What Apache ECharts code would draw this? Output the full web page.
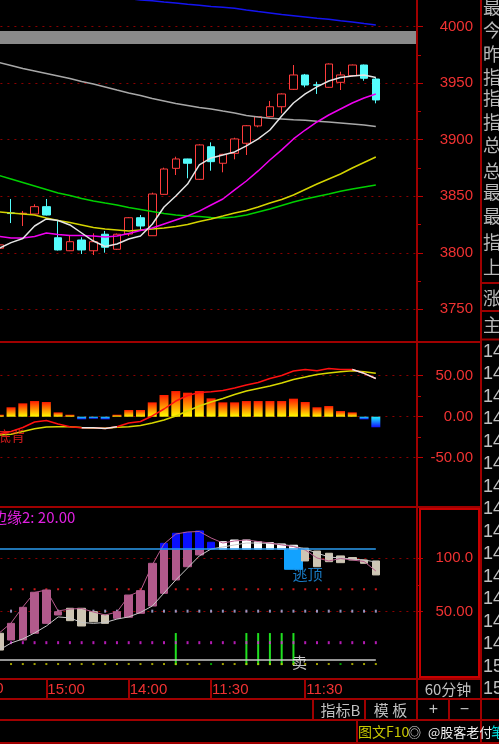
<!DOCTYPE html>
<html>
<head>
<meta charset="utf-8">
<title>60分钟</title>
<script src="https://cdn.jsdelivr.net/npm/echarts@6.0.0/dist/echarts.min.js"></script>
<style>
html,body{margin:0;padding:0;background:#000;overflow:hidden;}
#chart{width:499px;height:744px;}
</style>
</head>
<body>
<div id="chart"></div>
<script>
// ================= DATA =================
const categories = ['15:00','10:30','11:30','14:00','15:00','10:30','11:30','14:00','15:00','10:30','11:30','14:00','15:00','10:30','11:30','14:00','15:00','10:30','11:30','14:00','15:00','10:30','11:30','14:00','15:00','10:30','11:30','14:00','15:00','10:30','11:30','14:00','15:00',' ','  ','   '];
const timeLabelIdx = [4, 11, 18, 26];

// [open, close, low, high]
const candles = [
  [3804.0,3807.0,3803.0,3808.0],[3835.3,3834.7,3826.3,3847.6],[3834.5,3835.0,3823.7,3837.0],[3834.3,3840.8,3834.0,3842.9],
  [3840.8,3833.4,3833.0,3847.6],[3813.3,3802.5,3802.0,3829.0],[3801.8,3809.8,3801.5,3815.7],[3811.3,3802.5,3798.9,3813.7],
  [3801.8,3809.8,3798.0,3817.2],[3816.4,3804.9,3800.1,3819.3],[3803.1,3816.4,3802.5,3817.0],[3816.6,3831.0,3814.9,3831.5],
  [3831.0,3823.7,3820.2,3833.4],[3815.1,3852.0,3815.0,3853.2],[3851.7,3874.1,3851.5,3875.3],[3874.7,3883.0,3868.8,3885.0],
  [3883.0,3879.2,3865.9,3883.2],[3865.0,3895.4,3864.5,3896.0],[3893.8,3880.6,3872.6,3897.7],[3879.2,3887.1,3871.2,3887.5],
  [3888.0,3900.7,3882.7,3901.8],[3896.9,3912.4,3886.5,3913.0],[3912.2,3920.4,3911.0,3921.0],[3920.4,3929.2,3920.0,3934.3],
  [3929.2,3940.5,3923.4,3941.0],[3944.6,3957.3,3944.0,3966.1],[3957.3,3948.4,3946.4,3958.2],[3948.6,3948.2,3940.5,3951.3],
  [3946.4,3967.0,3946.0,3967.5],[3950.8,3957.3,3944.0,3960.2],[3956.7,3966.1,3956.0,3966.5],[3966.1,3954.4,3952.2,3966.5],
  [3953.7,3935.2,3932.2,3955.2]
];
const maWhite = [3804,3809,3812.6,3823.7,3829.9,3828.6,3824.6,3817.5,3810.4,3805.6,3807.8,3812.2,3814.9,3825.2,3840.5,3850.2,3860.8,3877.7,3883.9,3886.5,3889.2,3894.5,3900.7,3908.6,3921.0,3932.5,3940.5,3946.7,3952.0,3955.1,3956.4,3957.3,3955.1];
const maGray = [3968.3,3965.7,3963.0,3960.8,3958.6,3956.4,3954.2,3951.5,3949.3,3946.7,3944.0,3941.4,3939.1,3936.5,3934.3,3932.1,3930.3,3928.5,3927.2,3925.4,3923.7,3921.4,3920.1,3919.0,3918.4,3917.7,3917.2,3916.4,3915.7,3914.8,3913.9,3913.0,3911.7];
const maMagenta = [3814.4,3813.1,3813.1,3814.4,3817.5,3816.2,3815.3,3815.3,3814.9,3814.0,3814.9,3817.1,3819.7,3821.9,3825.5,3829.0,3832.5,3836.9,3842.3,3847.6,3855.6,3863.5,3872.4,3882.1,3891.0,3900.7,3908.6,3915.7,3921.9,3927.2,3932.5,3936.9,3940.5];
const maYellow = [3836.1,3835.2,3834.3,3833.4,3830.8,3828.6,3826.8,3824.6,3822.4,3821.1,3820.2,3819.3,3820.2,3821.1,3822.0,3823.3,3825.0,3827.7,3829.9,3832.5,3835.2,3837.4,3840.5,3844.0,3847.1,3851.1,3856.0,3860.8,3865.3,3869.7,3875.0,3879.9,3884.7];
const maGreen = [3868.4,3865.3,3862.2,3859.1,3856.0,3852.9,3850.7,3848.0,3845.8,3844.0,3842.3,3840.1,3838.3,3836.5,3834.8,3833.4,3832.5,3832.1,3831.2,3830.8,3831.7,3833.4,3836.1,3838.7,3841.8,3844.9,3847.6,3849.8,3852.0,3854.4,3856.4,3858.2,3860.0];
const maBlue = [4036.0,4035.1,4034.2,4033.3,4032.5,4031.6,4030.7,4029.8,4028.9,4027.6,4026.3,4024.9,4023.6,4022.9,4021.8,4021.0,4019.9,4018.9,4017.9,4017.2,4016.3,4014.8,4013.4,4012.1,4010.8,4009.7,4008.6,4007.4,4006.5,4005.3,4004.2,4002.8,4001.5];
const grayBand = [3984.7, 3996.2];
const priceLabels = [3750, 3800, 3850, 3900, 3950, 4000];
const priceMinor = [3775, 3825, 3875, 3925, 3975];

const macdHist = [0.9,11.5,16.3,19.1,17.9,5.3,0.9,-3.2,-2.5,-3.2,2.0,8.2,8.2,17.5,26.5,31.3,29.3,31.3,22.4,17.5,17.5,19.1,19.1,19.1,19.1,22.0,17.9,11.5,13.0,6.9,5.3,-3.2,-12.9];
const macdDif = [-20.5,-18.0,-13.2,-6.5,-4.6,-8.9,-12.3,-13.4,-13.4,-14.5,-12.2,-7.7,-5.9,0.9,9.4,19.1,25.9,29.5,30.5,32.0,35.0,38.7,41.7,46.6,50.2,55.7,57.6,56.0,58.8,57.6,57.6,52.9,46.6];
const macdDifWhite = [null,null,null,null,null,null,null,-13.4,-13.4,-14.5,-12.2,null,null,null,null,null,null,null,null,null,null,null,null,null,null,null,null,null,null,null,57.6,52.9,46.6];
const macdDea = [-22.3,-21.3,-18.0,-14.8,-12.6,-12.2,-12.2,-13.2,-13.8,-14.1,-12.9,-12.3,-10.7,-7.7,-4.0,0.9,7.0,13.0,17.9,22.2,27.1,31.3,34.4,37.4,41.1,45.4,48.4,51.5,53.3,54.8,56.1,54.8,52.9];
const macdLabels = [-50, 0, 50];
const macdMinor = [-25, 25];
const macdNote = {idx: 1, value: -23.5, text: '底背'};

const lineK = [30.1,39.4,54.4,68.0,70.3,50.7,52.5,53.0,49.7,46.9,49.7,64.7,69.4,93.7,113.4,122.7,124.6,125.1,119.0,114.3,116.2,117.1,115.7,114.3,112.5,111.0,107.8,100.3,97.5,99.8,98.4,97.0,88.1];
const lineD = [14.1,20.7,24.5,30.1,36.6,45.1,44.2,39.9,39.1,39.9,43.1,45.1,49.3,55.3,67.5,79.7,90.9,102.2,108.7,110.6,112.5,114.3,114.3,113.9,112.9,111.5,108.7,105.0,101.2,100.3,99.3,98.4,96.5];
const boxLow = [14.1,23.5,23.5,29.8,39.1,46.9,41.6,36.6,40.6,39.1,43.8,44.8,48.5,55.3,67.2,79.7,92.1,103.1,108.5,108.5,108.5,108.5,108.5,108.5,108.5,108.5,97.5,92.1,96.8,95.9,98.4,95.3,84.4];
const boxHigh = [29.8,39.1,54.1,68.2,70.3,50.0,53.2,53.2,50.0,46.9,50.0,65.6,69.7,95.3,114.0,123.4,124.3,125.6,115.0,115.5,117.1,117.1,115.5,114.6,113.4,112.2,109.4,106.8,104.7,102.2,100.7,98.4,97.5];
const boxUp = [0,1,1,1,1,1,0,0,0,0,1,1,1,1,1,1,1,1,1,0,0,0,0,0,0,0,0,0,0,0,0,0,0];
const edge1 = 108.5;
const edge2Label = '边缘2: 20.00';
const escapeBox = {idx: 25, low: 89.7, high: 108.5, labelValue: 84.6, text: '逃顶'};
const sellNote = {idx: 25, value: 3, text: '卖'};
const signalIdx = [15, 21, 22, 23, 24, 25];
const signalTop = 30;
const whiteLevel = 5.4;
const redDotLevel = 71;
const lavDotLevel = 50.5;
const magDotLevel = 21;
const baseDotLevel = 1;
const greenDotIdx = [18, 29];
const indLabels = [50, 100];
const indMinor = [75];

// ================= CHART =================
const chart = echarts.init(document.getElementById('chart'), null, {renderer: 'canvas'});
const GL = -6.6, GW = 423.6;
const FONT = '"Liberation Sans","Noto Sans CJK SC",sans-serif';
const CJK = '"Noto Sans CJK SC","Liberation Sans",sans-serif';
const RED_TXT = '#f03232';
const FRAME = '#a00000';
const barIdx = candles.map((_, i) => i);

function xAx(gi, show) {
  return {type: 'category', gridIndex: gi, data: categories, boundaryGap: true, show: show};
}
function majorY(gi, min, max, vals, fmt) {
  return {
    type: 'value', gridIndex: gi, position: 'right', min: min, max: max,
    axisLine: {show: false},
    axisTick: {show: true, customValues: vals, length: 6, lineStyle: {color: '#c00000', width: 1}},
    axisLabel: {show: true, customValues: vals, formatter: fmt, color: RED_TXT, fontSize: 15, fontFamily: FONT, align: 'right', margin: 56},
    splitLine: {show: true, lineStyle: {color: '#8b0000', type: [2, 5], width: 1}}
  };
}
function minorY(gi, min, max, vals) {
  return {
    type: 'value', gridIndex: gi, position: 'right', min: min, max: max,
    axisLine: {show: false},
    axisTick: {show: true, customValues: vals, length: 4, lineStyle: {color: '#c00000', width: 1}},
    axisLabel: {show: false}, splitLine: {show: false}
  };
}
function maLine(data, color, w) {
  return {type: 'line', xAxisIndex: 0, yAxisIndex: 0, data: data, showSymbol: false, symbol: 'none',
    lineStyle: {color: color, width: w || 1.5}, silent: true, clip: true};
}
function dotSeries(level, color, size) {
  return {type: 'scatter', xAxisIndex: 2, yAxisIndex: 4, symbol: 'rect', symbolSize: size,
    data: barIdx.slice(1).map(i => [i, level]), itemStyle: {color: color}, silent: true};
}
function boxItem(lo, hi, color) {
  return {value: [lo, hi, lo, hi], itemStyle: {color: color, color0: color, borderColor: color, borderColor0: color}};
}
const EMPTY = ['-', '-', '-', '-'];
const lowerBoxes = barIdx.map(i => {
  const lo = boxLow[i], hi = Math.min(boxHigh[i], edge1);
  if (lo >= edge1 - 0.05) return EMPTY.slice();
  return boxItem(lo, hi, boxUp[i] ? '#b15a8b' : '#cec6b4');
});
const upperBoxes = barIdx.map(i => {
  const hi = boxHigh[i], lo = Math.max(boxLow[i], edge1);
  if (hi <= edge1 + 0.05) return EMPTY.slice();
  return boxItem(lo, hi, boxUp[i] ? '#0a10ff' : '#ffffff');
});
const escapeData = barIdx.map(i => i === escapeBox.idx ? boxItem(escapeBox.low, escapeBox.high, '#12a2ff') : EMPTY.slice());
const signalData = barIdx.map(i => signalIdx.indexOf(i) >= 0 ? signalTop : '-');
const baseDots = barIdx.slice(1).map(i => ({value: [i, baseDotLevel], itemStyle: {color: greenDotIdx.indexOf(i) >= 0 ? '#00c800' : '#c8c800'}}));

function noteSeries(xi, yi, idx, value, text, color, size, offset) {
  return {type: 'scatter', xAxisIndex: xi, yAxisIndex: yi, symbol: 'circle', symbolSize: 1,
    itemStyle: {color: 'rgba(0,0,0,0)'}, silent: true, z: 10,
    data: [[idx, value]],
    label: {show: true, position: 'inside', offset: offset || [0, 0], formatter: text, color: color, fontSize: size, fontFamily: CJK}};
}

// frame graphics
function hl(y, x1, x2, c, w) { return {type: 'line', silent: true, z: 100, shape: {x1: x1, y1: y, x2: x2, y2: y}, style: {stroke: c || FRAME, lineWidth: w || 2}}; }
function vl(x, y1, y2, c, w) { return {type: 'line', silent: true, z: 100, shape: {x1: x, y1: y1, x2: x, y2: y2}, style: {stroke: c || FRAME, lineWidth: w || 2}}; }
function tx(x, y, text, fill, size, align, font) {
  return {type: 'text', silent: true, z: 101, x: x, y: y,
    style: {text: text, fill: fill, fontSize: size, fontFamily: font || CJK, align: align || 'left', verticalAlign: 'middle'}};
}
const graphics = [
  hl(342, 0, 481), hl(507, 0, 481), hl(679, 0, 481), hl(699, 0, 499), hl(720, 0, 499), hl(743, 0, 499),
  vl(417, 0, 720), vl(481, 0, 744),
  vl(313, 699, 720), vl(365, 699, 720), vl(449, 699, 720), vl(357, 720, 744),
  {type: 'rect', silent: true, z: 100, shape: {x: 420, y: 509, width: 59, height: 168}, style: {fill: null, stroke: '#c80000', lineWidth: 2}},
  hl(283, 481, 499), hl(311, 481, 499), hl(339.5, 481, 499),
  tx(-8, 517, edge2Label, '#e020e0', 15, 'left', CJK),
  tx(3.5, 689, '10:30', RED_TXT, 15, 'right', FONT),
  tx(448, 689, '60分钟', '#c0c0c0', 15, 'center'),
  tx(340.5, 710, '指标B', '#c0c0c0', 15, 'center'),
  tx(390.5, 710, '模 板', '#c0c0c0', 15, 'center'),
  tx(433.3, 710, '+', '#c0c0c0', 16, 'center', FONT),
  tx(464.3, 710, '−', '#c0c0c0', 16, 'center', FONT),
  tx(358, 732, '图文F10', '#c8c800', 14, 'left'),
  tx(408, 732, '◎', '#e0e0e0', 13, 'left'),
  tx(428, 732, '@股客老付', '#eeeeee', 13, 'left'),
  tx(491, 732, '笔', '#00d8d8', 14, 'left')
];
const rightChars = ['最','今','昨','指','指','指','总','总','最','最','指','上','涨','主'];
const rightCharY = [7, 30, 54, 76.7, 98.5, 122, 145, 171, 192.5, 216, 241.7, 267, 298.3, 325];
rightChars.forEach((c, i) => graphics.push(tx(483, rightCharY[i], c, '#b8b8b8', 18, 'left')));
for (let i = 0; i < 16; i++) graphics.push(tx(483, 351.7 + 22.5 * i, i < 14 ? '14' : '15', '#c0c0c0', 18, 'left', FONT));

function gridBox(top, height) {
  return {left: GL, width: GW, top: top, height: height, containLabel: false, outerBoundsMode: 'none'};
}

const option = {
  backgroundColor: '#000000',
  animation: false,
  tooltip: {show: false},
  axisPointer: {show: false},
  grid: [gridBox(0, 342), gridBox(342, 165), gridBox(507, 172), gridBox(679, 20)],
  xAxis: [
    xAx(0, false), xAx(1, false), xAx(2, false),
    {type: 'category', gridIndex: 3, data: categories, boundaryGap: true, position: 'bottom',
      axisLine: {show: false},
      axisTick: {show: true, alignWithLabel: true, inside: true, length: 20, interval: (i) => timeLabelIdx.indexOf(i) >= 0, lineStyle: {color: FRAME, width: 2}},
      axisLabel: {show: true, inside: true, interval: (i) => timeLabelIdx.indexOf(i) >= 0, align: 'left', margin: 2, padding: [0, 0, 0, 1],
        color: RED_TXT, fontSize: 15, fontFamily: FONT},
      splitLine: {show: false}}
  ],
  yAxis: [
    majorY(0, 3721.07, 4023.62, priceLabels, v => String(Math.round(v))),
    minorY(0, 3721.07, 4023.62, priceMinor),
    majorY(1, -110.1, 91.1, macdLabels, v => Number(v).toFixed(2)),
    minorY(1, -110.1, 91.1, macdMinor),
    majorY(2, -13.0, 148.0, indLabels, v => (v >= 100 ? Number(v).toFixed(1) : Number(v).toFixed(2))),
    minorY(2, -13.0, 148.0, indMinor),
    {type: 'value', gridIndex: 3, show: false}
  ],
  series: [
    // ---- price pane ----
    {type: 'candlestick', xAxisIndex: 0, yAxisIndex: 0, data: candles, barWidth: 8, silent: true,
      itemStyle: {color: '#000000', color0: '#54fcfc', borderColor: '#ff3c3c', borderColor0: '#54fcfc', borderWidth: 1},
      markArea: {silent: true, itemStyle: {color: '#8a8a8a'}, data: [[{yAxis: grayBand[0]}, {yAxis: grayBand[1]}]]}},
    maLine(maGray, '#a8a8a8'),
    maLine(maGreen, '#00d000'),
    maLine(maYellow, '#d4d400'),
    maLine(maMagenta, '#f000f0'),
    maLine(maWhite, '#e4e4e4'),
    maLine(maBlue, '#1414f0'),
    // ---- MACD pane ----
    {type: 'bar', xAxisIndex: 1, yAxisIndex: 2, data: macdHist, barWidth: 9, barMinHeight: 2, silent: true,
      itemStyle: {color: function (p) {
        return p.value >= 0
          ? new echarts.graphic.LinearGradient(0, 0, 0, 1, [{offset: 0, color: '#ff1a00'}, {offset: 1, color: '#ffff00'}])
          : new echarts.graphic.LinearGradient(0, 0, 0, 1, [{offset: 0, color: '#20f0ff'}, {offset: 1, color: '#1010ff'}]);
      }}},
    {type: 'line', xAxisIndex: 1, yAxisIndex: 2, data: macdDea, symbol: 'none', lineStyle: {color: '#d8d800', width: 1.5}, silent: true},
    {type: 'line', xAxisIndex: 1, yAxisIndex: 2, data: macdDif, symbol: 'none', lineStyle: {color: '#ff1010', width: 1.5}, silent: true},
    {type: 'line', xAxisIndex: 1, yAxisIndex: 2, data: macdDifWhite, symbol: 'none', connectNulls: false, lineStyle: {color: '#e8e8e8', width: 1.5}, silent: true},
    noteSeries(1, 2, macdNote.idx, macdNote.value, macdNote.text, '#ff2020', 14, [0, 0]),
    // ---- indicator pane ----
    dotSeries(redDotLevel, '#ff2020', [2, 2]),
    dotSeries(lavDotLevel, '#b8b8ec', [2, 3]),
    dotSeries(magDotLevel, '#e020e0', [2, 3]),
    {type: 'scatter', xAxisIndex: 2, yAxisIndex: 4, symbol: 'rect', symbolSize: [2, 2], data: baseDots, silent: true},
    {type: 'bar', xAxisIndex: 2, yAxisIndex: 4, data: signalData, barWidth: 2, itemStyle: {color: '#20e020'}, silent: true},
    {type: 'line', xAxisIndex: 2, yAxisIndex: 4, data: lineD, symbol: 'none', lineStyle: {color: '#c8c8c8', width: 1}, silent: true,
      markLine: {silent: true, symbol: ['none', 'none'], label: {show: false}, animation: false,
        data: [
          [{coord: [0, whiteLevel], lineStyle: {color: '#c8c8c8', width: 1.5, type: 'solid'}}, {coord: [barIdx.length - 1, whiteLevel]}]
        ]}},
    {type: 'line', xAxisIndex: 2, yAxisIndex: 4, data: lineK, symbol: 'none', lineStyle: {color: '#b85c8e', width: 1}, silent: true},
    {type: 'candlestick', xAxisIndex: 2, yAxisIndex: 4, data: escapeData, barWidth: 18, silent: true, itemStyle: {borderWidth: 1}},
    {type: 'candlestick', xAxisIndex: 2, yAxisIndex: 4, data: lowerBoxes, barWidth: 8, silent: true, itemStyle: {borderWidth: 1}},
    {type: 'candlestick', xAxisIndex: 2, yAxisIndex: 4, data: upperBoxes, barWidth: 8, silent: true, itemStyle: {borderWidth: 1},
      markLine: {silent: true, symbol: ['none', 'none'], label: {show: false}, animation: false,
        data: [
          [{coord: [0, edge1], lineStyle: {color: '#2b9cf0', width: 1.5, type: 'solid'}}, {coord: [barIdx.length - 1, edge1]}]
        ]}},
    noteSeries(2, 4, escapeBox.idx, escapeBox.labelValue, escapeBox.text, '#1e96f0', 15, [14, 0]),
    noteSeries(2, 4, sellNote.idx, sellNote.value, sellNote.text, '#f0f0f0', 15, [6, 0])
  ],
  graphic: graphics
};
chart.setOption(option);
</script>
</body>
</html>
